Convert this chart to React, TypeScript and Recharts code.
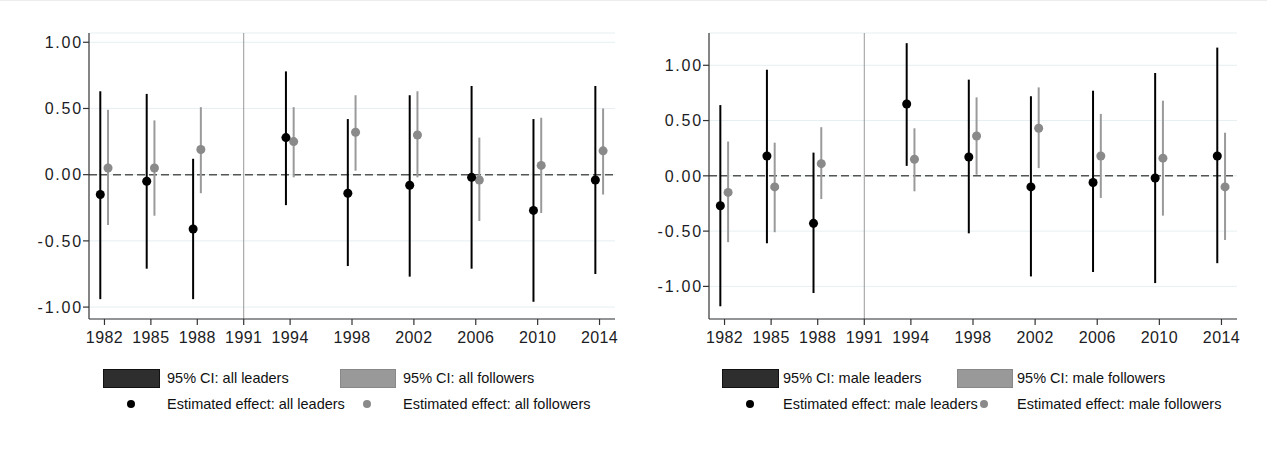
import {
  ComposedChart, Scatter, ErrorBar, XAxis, YAxis, CartesianGrid, ReferenceLine,
} from "recharts";

const years = [1982, 1985, 1988, 1994, 1998, 2002, 2006, 2010, 2014];
const xTicks = [1982, 1985, 1988, 1991, 1994, 1998, 2002, 2006, 2010, 2014];
const yTicks = [-1, -0.5, 0, 0.5, 1];

// left panel: all leaders / all followers
const allLeadEst = [-0.15, -0.05, -0.41, 0.28, -0.14, -0.08, -0.02, -0.27, -0.04];
const allLeadLo = [-0.94, -0.71, -0.94, -0.23, -0.69, -0.77, -0.71, -0.96, -0.75];
const allLeadHi = [0.63, 0.61, 0.12, 0.78, 0.42, 0.6, 0.67, 0.42, 0.67];
const allFollEst = [0.05, 0.05, 0.19, 0.25, 0.32, 0.3, -0.04, 0.07, 0.18];
const allFollLo = [-0.38, -0.31, -0.14, -0.02, 0.03, -0.02, -0.35, -0.29, -0.15];
const allFollHi = [0.49, 0.41, 0.51, 0.51, 0.6, 0.63, 0.28, 0.43, 0.5];

// right panel: male leaders / male followers
const maleLeadEst = [-0.27, 0.18, -0.43, 0.65, 0.17, -0.1, -0.06, -0.02, 0.18];
const maleLeadLo = [-1.18, -0.61, -1.06, 0.09, -0.52, -0.91, -0.87, -0.97, -0.79];
const maleLeadHi = [0.64, 0.96, 0.21, 1.2, 0.87, 0.72, 0.77, 0.93, 1.16];
const maleFollEst = [-0.15, -0.1, 0.11, 0.15, 0.36, 0.43, 0.18, 0.16, -0.1];
const maleFollLo = [-0.6, -0.51, -0.21, -0.14, 0.01, 0.07, -0.2, -0.36, -0.58];
const maleFollHi = [0.31, 0.3, 0.44, 0.43, 0.71, 0.8, 0.56, 0.68, 0.39];

const LEAD_SHIFT = -0.27;
const FOLL_SHIFT = 0.23;

function build(est: number[], lo: number[], hi: number[], shift: number) {
  return years.map((yr, i) => ({
    x: yr + shift,
    y: est[i],
    err: [est[i] - lo[i], hi[i] - est[i]],
  }));
}

const font = "'Liberation Sans', Arial, sans-serif";
const DARK = "#000000";
const LIGHT = "#8a8a8a";
const LIGHT_CI = "#9a9a9a";

type PanelProps = {
  width: number;
  left: number;
  right: number;
  domain: [number, number];
  lead: ReturnType<typeof build>;
  foll: ReturnType<typeof build>;
};

function Panel({ width, left, right, domain, lead, foll }: PanelProps) {
  return (
    <ComposedChart width={width} height={360} margin={{ top: 33, right, left, bottom: 11 }}>
      <CartesianGrid horizontal vertical={false} stroke="#e6eff1" strokeWidth={1} />
      <XAxis
        type="number" dataKey="x" domain={[1981, 2015]} ticks={xTicks} allowDataOverflow
        stroke="#333" strokeWidth={1.2} tickSize={6} tickMargin={7} height={30}
        tick={{ fontSize: 16, fill: "#1c1c24", fontFamily: font, letterSpacing: 0.4 }}
      />
      <YAxis
        type="number" dataKey="y" domain={domain} ticks={yTicks} allowDataOverflow width={60}
        stroke="#333" strokeWidth={1.2} tickSize={6} tickMargin={0}
        tickFormatter={(v: number) => v.toFixed(2)}
        tick={{ fontSize: 16, fill: "#1c1c24", fontFamily: font, letterSpacing: 1.8 }}
      />
      <ReferenceLine x={1991} stroke="#999" strokeWidth={1} />
      <ReferenceLine y={0} stroke="#555" strokeWidth={1.5} strokeDasharray="8 4" />
      <Scatter data={foll} fill={LIGHT} isAnimationActive={false}>
        <ErrorBar dataKey="err" direction="y" width={0} stroke={LIGHT_CI} strokeWidth={2} />
      </Scatter>
      <Scatter data={lead} fill={DARK} isAnimationActive={false}>
        <ErrorBar dataKey="err" direction="y" width={0} stroke={DARK} strokeWidth={2} />
      </Scatter>
    </ComposedChart>
  );
}

function LegendBox({ left, boxA, boxB, textA, textB, items }: {
  left: number; boxA: number; boxB: number; textA: number; textB: number; items: string[];
}) {
  const txt = { position: "absolute" as const, fontSize: 14.5, fontFamily: font, color: "#111", whiteSpace: "nowrap" as const, lineHeight: "18px" };
  return (
    <div style={{ position: "absolute", left, top: 0 }}>
      <div style={{ position: "absolute", left: boxA, top: 368, width: 55, height: 17, background: "#2e2e2e", border: "1px solid #111" }} />
      <div style={{ ...txt, left: textA, top: 368 }}>{items[0]}</div>
      <div style={{ position: "absolute", left: boxB, top: 368, width: 54, height: 17, background: "#999", border: "1px solid #888" }} />
      <div style={{ ...txt, left: textB, top: 368 }}>{items[1]}</div>
      <div style={{ position: "absolute", left: boxA + 24, top: 399, width: 8, height: 8, borderRadius: 4, background: DARK }} />
      <div style={{ ...txt, left: textA, top: 394 }}>{items[2]}</div>
      <div style={{ position: "absolute", left: boxB + 23, top: 399, width: 8, height: 8, borderRadius: 4, background: LIGHT }} />
      <div style={{ ...txt, left: textB, top: 394 }}>{items[3]}</div>
    </div>
  );
}

export default function App() {
  return (
    <div style={{ position: "absolute", left: 0, top: 0, width: 1267, height: 451, background: "#fff", borderTop: "1px solid #ececec", boxSizing: "border-box" }}>
      <div style={{ position: "absolute", left: 0, top: -1 }}>
        <Panel width={630} left={29} right={15} domain={[-1.09, 1.07]}
          lead={build(allLeadEst, allLeadLo, allLeadHi, LEAD_SHIFT)}
          foll={build(allFollEst, allFollLo, allFollHi, FOLL_SHIFT)} />
      </div>
      <div style={{ position: "absolute", left: 630, top: -1 }}>
        <Panel width={637} left={19} right={30} domain={[-1.295, 1.292]}
          lead={build(maleLeadEst, maleLeadLo, maleLeadHi, LEAD_SHIFT)}
          foll={build(maleFollEst, maleFollLo, maleFollHi, FOLL_SHIFT)} />
      </div>
      <LegendBox left={0} boxA={103} boxB={340} textA={167} textB={403}
        items={["95% CI: all leaders", "95% CI: all followers", "Estimated effect: all leaders", "Estimated effect: all followers"]} />
      <LegendBox left={0} boxA={722} boxB={957} textA={783} textB={1017}
        items={["95% CI: male leaders", "95% CI: male followers", "Estimated effect: male leaders", "Estimated effect: male followers"]} />
    </div>
  );
}
